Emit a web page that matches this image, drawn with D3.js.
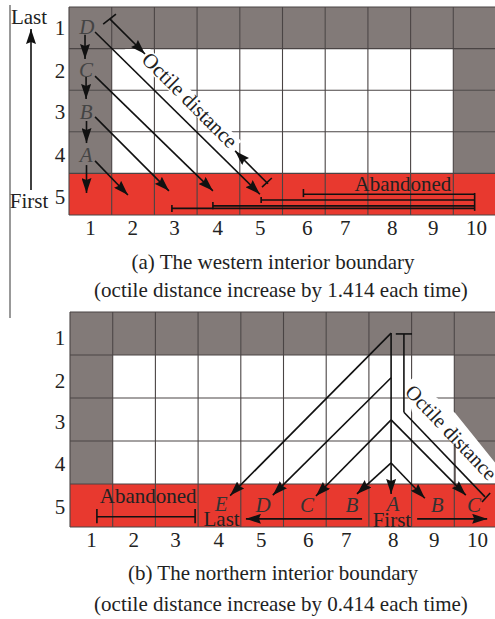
<!DOCTYPE html>
<html><head><meta charset="utf-8">
<script src="https://cdn.jsdelivr.net/npm/d3@7/dist/d3.min.js"></script>
<style>html,body{margin:0;padding:0;background:#fff}svg{display:block}text{font-family:"Liberation Serif",serif;fill:#222}</style>
</head><body><svg id="c" width="495" height="619"></svg>
<script>
const colLabels = ["1","2","3","4","5","6","7","8","9","10"];
const rowLabels = ["1","2","3","4","5"];
const colTickPos = [.49,1.48,2.46,3.47,4.47,5.57,6.46,7.56,8.52,9.53];
const rowTickPosA = [.5,1.54,2.52,3.56,4.57];
const rowTickPosB = [.6,1.6,2.56,3.53,4.53];
const grayCells = [[0,0],[0,1],[0,2],[0,3],[0,4],[0,5],[0,6],[0,7],[0,8],[0,9],[1,0],[2,0],[3,0],[1,9],[2,9],[3,9]];
const redRow = 4;
const arrowsA = [
 [.375,.67,.375,1.25],[.40,1.68,.40,2.21],[.41,2.74,.41,3.27],[.41,3.80,.41,4.47],
 [.61,3.70,1.38,4.52],[.61,2.64,2.34,4.42],[.61,1.66,3.37,4.42],[.61,.60,4.47,4.50],
 [.96,.29,1.78,1.13],[4.66,4.25,3.89,3.46]];
const plainA = [
 [.80,.41,1.10,.17],[4.52,4.33,4.75,4.11],
 [5.49,4.50,9.50,4.50],[4.50,4.64,9.50,4.64],[3.37,4.78,9.50,4.78],[2.41,4.84,9.50,4.84],
 [5.49,4.375,5.49,4.57],[4.50,4.57,4.50,4.71],[3.37,4.69,3.37,4.86],[2.41,4.76,2.41,4.93],[9.50,4.47,9.50,4.90]];
const lettersA = [["D",.42,.48],["C",.40,1.52],["B",.40,2.53],["A",.40,3.56]];
const maskA = [[1.30,1.01],[1.90,1.01],[4.05,3.24],[3.78,3.40]];
const arrowsB = [
 [7.52,.49,3.75,4.27],[7.52,1.53,4.75,4.26],[7.52,2.51,5.76,4.28],[7.52,3.51,6.72,4.23],
 [7.52,.49,7.52,4.23],[7.52,3.51,8.31,4.33],[7.52,2.51,9.27,4.26],
 [6.84,4.81,4.12,4.81],[8.13,4.81,9.77,4.81]];
const plainB = [
 [7.63,.51,8.01,.51],[7.82,.51,7.82,2.33],[7.82,2.33,9.72,4.30],[9.65,4.42,9.84,4.21],
 [.63,4.76,2.93,4.76],[.63,4.58,.63,4.91],[2.93,4.58,2.93,4.91]];
const lettersB = [["E",3.54,4.47],["D",4.52,4.49],["C",5.55,4.49],["B",6.60,4.49],["A",7.56,4.47],["B",8.60,4.49],["C",9.46,4.49]];
const maskB = [[7.85,1.70],[8.03,1.53],[9.02,2.35],[10,3.56],[10,3.98],[9.04,3.98],[9.04,3.09],[8.01,2.33]];

const svg = d3.select("#c");
const defs = svg.append("defs");
defs.append("marker").attr("id","ah").attr("markerUnits","userSpaceOnUse")
 .attr("viewBox","0 0 15 10").attr("refX",15).attr("refY",5)
 .attr("markerWidth",15).attr("markerHeight",10).attr("orient","auto")
 .append("path").attr("d","M0,0L15,5L0,10L2,5Z").attr("fill","#111");
const clip = defs.append("clipPath").attr("id","pg");
clip.append("rect").attr("width",495).attr("height",619);

function panel(cfg){
 const x = d3.scaleLinear().domain([0,10]).range(cfg.xr);
 const y = d3.scaleLinear().domain([0,5]).range(cfg.yr);
 const g = svg.append("g").attr("clip-path","url(#pg)");
 g.append("rect").attr("x",x(0)).attr("y",y(0)).attr("width",x(10)-x(0)).attr("height",y(5)-y(0)).attr("fill","#fff");
 g.selectAll(".gray").data(grayCells).join("rect")
  .attr("x",d=>x(d[1])).attr("y",d=>y(d[0])).attr("width",x(1)-x(0)).attr("height",y(1)-y(0)).attr("fill","#827a78");
 g.append("rect").attr("x",x(0)).attr("y",y(redRow)).attr("width",x(10)-x(0)).attr("height",y(5)-y(4)).attr("fill","#e8392f");
 g.selectAll(".vl").data(d3.range(0,11)).join("line")
  .attr("x1",d=>x(d)).attr("x2",d=>x(d)).attr("y1",y(0)).attr("y2",y(5)).attr("stroke","#4a4444").attr("stroke-width",1.1);
 g.selectAll(".hl").data(d3.range(0,6)).join("line")
  .attr("x1",x(0)).attr("x2",x(10)).attr("y1",d=>y(d)).attr("y2",d=>y(d)).attr("stroke","#4a4444").attr("stroke-width",1.1);
 g.append("path").attr("fill","#fff")
  .attr("d",d3.line().x(d=>x(d[0])).y(d=>y(d[1])).curve(d3.curveLinearClosed)(cfg.mask));
 const b = cfg.band;
 g.append("text").attr("transform",`translate(${x(b.u)},${y(b.v)}) rotate(${b.rot})`)
  .attr("y",7).attr("font-size",b.fs).attr("text-anchor","middle").text("Octile distance");
 const seg = sel => sel.attr("x1",d=>x(d[0])).attr("y1",d=>y(d[1])).attr("x2",d=>x(d[2])).attr("y2",d=>y(d[3]))
   .attr("stroke","#111").attr("stroke-width",1.6);
 g.selectAll(".p").data(cfg.plain).join("line").call(seg);
 g.selectAll(".a").data(cfg.arrows).join("line").call(seg).attr("marker-end","url(#ah)");
 g.selectAll(".l").data(cfg.letters).join("text")
  .attr("x",d=>x(d[1])).attr("y",d=>y(d[2])).attr("dy","0.34em").attr("text-anchor","middle")
  .attr("font-style","italic").attr("font-size",21).style("fill",cfg.letterFill||"#333").text(d=>d[0]);
 const ax = svg.append("g").attr("transform",`translate(0,${y(5)+cfg.xOff})`)
  .call(d3.axisBottom(x).tickValues(colTickPos).tickSize(0).tickFormat((d,i)=>colLabels[i]));
 const ay = svg.append("g").attr("transform",`translate(${x(0)-cfg.yOff},0)`)
  .call(d3.axisLeft(y).tickValues(cfg.rowPos).tickSize(0).tickFormat((d,i)=>rowLabels[i]));
 [ax,ay].forEach(a=>{a.select(".domain").remove();
  a.selectAll("text").attr("font-size",21).attr("font-family","Liberation Serif").style("fill","#222");});
 ay.selectAll("text").attr("text-anchor","middle");
 return {x,y,g};
}
const A = panel({xr:[69,496],yr:[7,215],arrows:arrowsA,plain:plainA,letters:lettersA,letterFill:"#444",rowPos:rowTickPosA,mask:maskA,
 band:{u:2.83,v:2.24,rot:45,fs:21},xOff:2,yOff:6});
const B = panel({xr:[70,497],yr:[312,527],arrows:arrowsB,plain:plainB,letters:lettersB,rowPos:rowTickPosB,mask:maskB,
 band:{u:8.93,v:2.80,rot:46.5,fs:20.5},xOff:2,yOff:7});

const note = (p,txt,u,v,fs)=>p.g.append("text").attr("x",p.x(u)).attr("y",p.y(v)).attr("dy","0.34em")
  .attr("text-anchor","middle").attr("font-size",fs).text(txt);
note(A,"Abandoned",7.82,4.25,21);
note(B,"Abandoned",1.83,4.28,21);
note(B,"Last",3.55,4.82,21);
note(B,"First",7.54,4.83,21);

const orderArrow = [4.4,.53];
svg.append("line").attr("x1",31).attr("x2",31).attr("y1",A.y(orderArrow[0])).attr("y2",A.y(orderArrow[1]))
 .attr("stroke","#111").attr("stroke-width",1.6).attr("marker-end","url(#ah)");
svg.append("line").attr("x1",10).attr("x2",10).attr("y1",5).attr("y2",318).attr("stroke","#555").attr("stroke-width",1.2);
svg.append("text").attr("x",29).attr("y",17).attr("dy","0.34em").attr("text-anchor","middle").attr("font-size",21).text("Last");
svg.append("text").attr("x",29).attr("y",201).attr("dy","0.34em").attr("text-anchor","middle").attr("font-size",21).text("First");

const captions = [
 ["(a) The western interior boundary",273,262],
 ["(octile distance increase by 1.414 each time)",281,290],
 ["(b) The northern interior boundary",273,573],
 ["(octile distance increase by 0.414 each time)",281,604]];
svg.selectAll(".cap").data(captions).join("text").attr("class","cap")
 .attr("x",d=>d[1]).attr("y",d=>d[2]).attr("dy","0.34em").attr("text-anchor","middle").attr("font-size",21).text(d=>d[0]);
</script></body></html>
